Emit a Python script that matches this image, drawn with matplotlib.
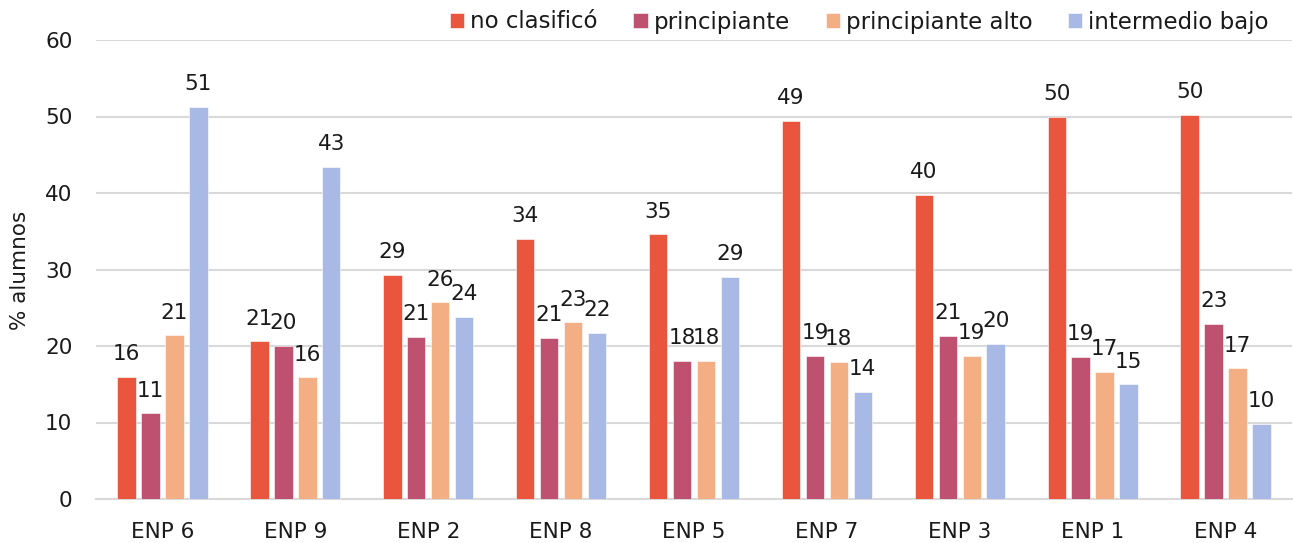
import matplotlib
matplotlib.use("Agg")
import matplotlib.pyplot as plt
import numpy as np

categories = ["ENP 6", "ENP 9", "ENP 2", "ENP 8", "ENP 5", "ENP 7", "ENP 3", "ENP 1", "ENP 4"]
series_names = ["no clasificó", "principiante", "principiante alto", "intermedio bajo"]
no_clasifico = [16.0, 20.6, 29.3, 34.0, 34.6, 49.4, 39.8, 50.0, 50.2]
principiante = [11.2, 20.0, 21.2, 21.1, 18.1, 18.7, 21.3, 18.6, 22.9]
principiante_alto = [21.4, 15.9, 25.7, 23.1, 18.1, 17.9, 18.7, 16.6, 17.1]
intermedio_bajo = [51.3, 43.4, 23.8, 21.7, 29.0, 14.0, 20.3, 15.0, 9.8]
colors = ["#EA553E", "#BF5170", "#F4AE84", "#A9B9E5"]
yticks = [0, 10, 20, 30, 40, 50, 60]

plt.rcParams['font.family'] = ['DejaVu Sans']
fs = 15.5

fig = plt.figure(figsize=(12.93, 5.43), dpi=100)
ax = fig.add_axes([96/1293, 1 - 499/543, (1292 - 96)/1293, (499 - 40)/543])

x = np.arange(len(categories))
bw = 0.139
step = 0.18
all_series = [no_clasifico, principiante, principiante_alto, intermedio_bajo]
for i, (vals, name, c) in enumerate(zip(all_series, series_names, colors)):
    pos = x + (i - 1.5) * step
    ax.bar(pos, vals, width=bw, color=c, label=name, zorder=3,
           edgecolor='white', linewidth=0.4)
    for p, v in zip(pos, vals):
        ax.annotate(f"{v:.0f}", xy=(p, v), xytext=(0, 12), textcoords='offset points',
                    ha='center', va='baseline', fontsize=fs, color='#1a1a1a', zorder=4)

ax.set_xlim(-0.5, len(categories) - 0.5)
ax.set_ylim(0, 60)
ax.set_yticks(yticks)
ax.set_xticks(x)
ax.set_xticklabels(categories)
ax.tick_params(axis='both', length=0, labelsize=fs, colors='#1a1a1a')
ax.tick_params(axis='y', pad=17)
ax.tick_params(axis='x', pad=16.5)
ax.yaxis.grid(True, color='#D9D9D9', linewidth=1.5, zorder=0)
ax.set_axisbelow(True)
for s in ['top', 'right', 'left']:
    ax.spines[s].set_visible(False)
ax.spines['bottom'].set_color('#D9D9D9')
ax.spines['bottom'].set_linewidth(1.5)

fig.text(20/1293, 1 - 270/543, "% alumnos", rotation=90, ha='center', va='center',
         fontsize=fs, color='#1a1a1a')

leg = fig.legend(loc='center right', bbox_to_anchor=(1269/1293, 1 - 22/543), ncol=4,
                 frameon=False, fontsize=16.5, handlelength=0.62, handleheight=0.62,
                 handletextpad=0.27, columnspacing=1.55, borderaxespad=0, borderpad=0)
for t in leg.get_texts():
    t.set_color('#1a1a1a')

fig.savefig("out.png", dpi=100)
